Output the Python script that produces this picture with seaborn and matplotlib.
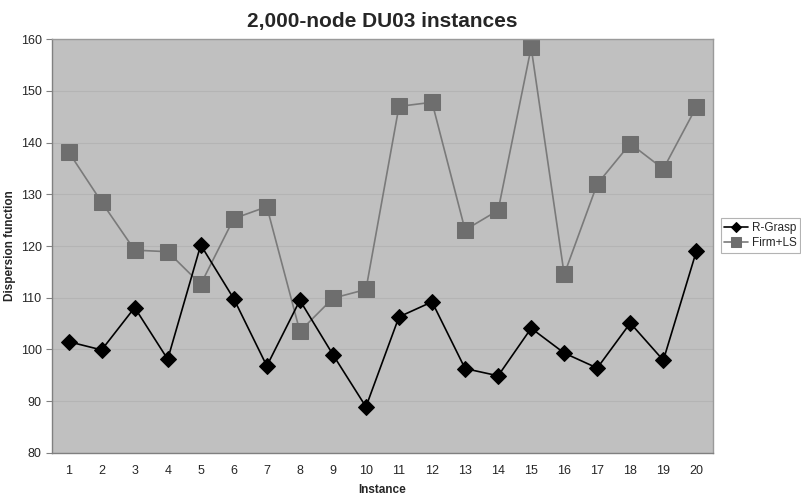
import matplotlib
matplotlib.use("Agg")
import matplotlib.pyplot as plt
import pandas as pd
import seaborn as sns

# values
INSTANCES = list(range(1, 21))
R_GRASP = [101.5, 99.9, 108.1, 98.1, 120.2, 109.8, 96.8, 109.5, 99.0, 88.9,
           106.3, 109.2, 96.3, 94.9, 104.1, 99.3, 96.4, 105.1, 97.9, 119.0]
FIRM_LS = [138.2, 128.5, 119.2, 118.9, 112.6, 125.3, 127.6, 103.5, 109.9, 111.6,
           147.0, 147.8, 123.1, 126.9, 158.4, 114.5, 132.0, 139.8, 134.9, 146.9]
SERIES = ["R-Grasp", "Firm+LS"]
Y_TICKS = [80, 90, 100, 110, 120, 130, 140, 150, 160]

df = pd.DataFrame({
    "Instance": INSTANCES * 2,
    "value": R_GRASP + FIRM_LS,
    "series": [SERIES[0]] * len(INSTANCES) + [SERIES[1]] * len(INSTANCES),
})

sns.set_style("white")
plt.rcParams["font.family"] = ["Liberation Sans", "DejaVu Sans"]

fig = plt.figure(figsize=(8.01, 4.96), dpi=100)
ax = fig.add_axes([0.065, 0.087, 0.825, 0.834])
ax.set_facecolor("#c0c0c0")

# ── lines ──────────────────────────────────────────────────────────────────
sns.lineplot(data=df[df.series == "R-Grasp"], x="Instance", y="value",
             color="#000000", marker="D", markersize=8, lw=1.2,
             markeredgecolor="#000000", label="R-Grasp", ax=ax, zorder=3)
sns.lineplot(data=df[df.series == "Firm+LS"], x="Instance", y="value",
             color="#7a7a7a", marker="s", markersize=11, lw=1.2,
             markerfacecolor="#6e6e6e", markeredgecolor="#6e6e6e",
             label="Firm+LS", ax=ax, zorder=2)

# ── axes ───────────────────────────────────────────────────────────────────
ax.set_xlim(0.5, 20.5)
ax.set_ylim(80, 160)
ax.set_yticks(Y_TICKS)
ax.set_xticks(INSTANCES)
ax.set_xticks([i + 0.5 for i in range(0, 21)], minor=True)
ax.tick_params(axis="x", which="major", length=0, labelsize=9, pad=9)
ax.tick_params(axis="x", which="minor", length=4, color="#808080", direction="out")
ax.tick_params(axis="y", length=4, color="#808080", labelsize=9, left=True)
ax.grid(axis="y", color="#b4b4b4", lw=0.8)
ax.set_axisbelow(True)
for s in ax.spines.values():
    s.set_color("#9a9a9a")
    s.set_linewidth(1.0)
ax.spines["left"].set_color("#808080")
ax.spines["bottom"].set_color("#808080")

ax.set_xlabel("Instance", fontsize=8.5, fontweight="bold", labelpad=5)
ax.set_ylabel("Dispersion function", fontsize=8.5, fontweight="bold", labelpad=3)
ax.set_title("2,000-node DU03 instances", fontsize=15, fontweight="bold", pad=9)

leg = ax.legend(loc="center left", bbox_to_anchor=(1.012, 0.525), fontsize=8.5,
                frameon=True, fancybox=False, edgecolor="#a0a0a0",
                markerscale=0.6, handlelength=2.0, handletextpad=0.3,
                borderpad=0.3, labelspacing=0.3, borderaxespad=0)
leg.get_frame().set_linewidth(0.8)

plt.savefig("out.png", dpi=100)
plt.close()
